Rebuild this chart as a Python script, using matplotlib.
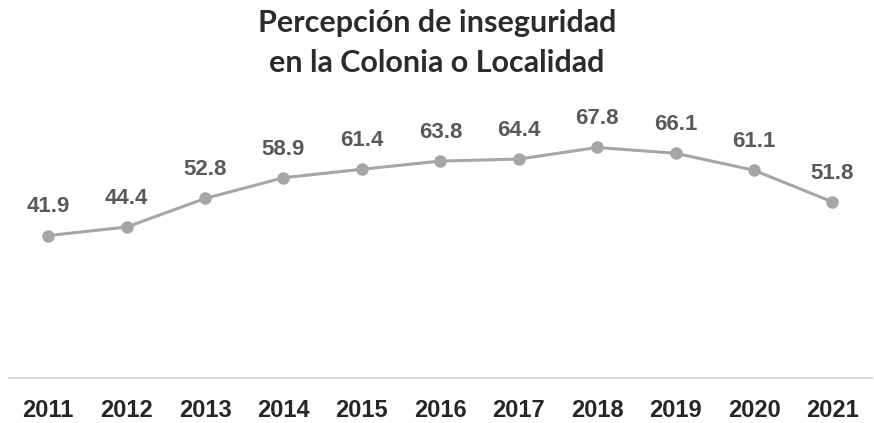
import matplotlib
matplotlib.use("Agg")
from matplotlib import pyplot as plt

# Data
years = ["2011", "2012", "2013", "2014", "2015", "2016", "2017", "2018", "2019", "2020", "2021"]
values = [41.9, 44.4, 52.8, 58.9, 61.4, 63.8, 64.4, 67.8, 66.1, 61.1, 51.8]

fig = plt.figure(figsize=(8.74, 4.23), dpi=100)
ax = fig.add_axes([0.0103, 0.1064, 0.987, 0.643])

x = list(range(len(years)))
ax.plot(x, values, color='#A6A6A6', linewidth=2.2, marker='o', markersize=8,
        markerfacecolor='#A6A6A6', markeredgecolor='#A6A6A6', zorder=3)

for xi, v in zip(x, values):
    ax.annotate("{:.1f}".format(v), (xi, v), xytext=(0, 13), textcoords='offset points',
                ha='center', va='bottom', fontsize=16, fontweight='bold',
                color='#595959', family='Liberation Sans')

ax.set_xlim(-0.5, len(years) - 0.5)
ax.set_ylim(0, 80)
ax.set_xticks(x)
ax.set_xticklabels(years, fontsize=17, fontweight='bold', color='#262626', family='Liberation Sans')
ax.tick_params(axis='x', length=0, pad=15)
ax.set_yticks([])

for s in ['top', 'right', 'left']:
    ax.spines[s].set_visible(False)
ax.spines['bottom'].set_color('#D9D9D9')
ax.spines['bottom'].set_linewidth(1.5)

fig.text(0.5, 0.898, "Percepción de inseguridad\nen la Colonia o Localidad", ha='center', va='center',
         fontsize=22, fontweight='bold', color='#2b2b2b', family='Lato', linespacing=1.5)

plt.savefig("out.png", dpi=100)
